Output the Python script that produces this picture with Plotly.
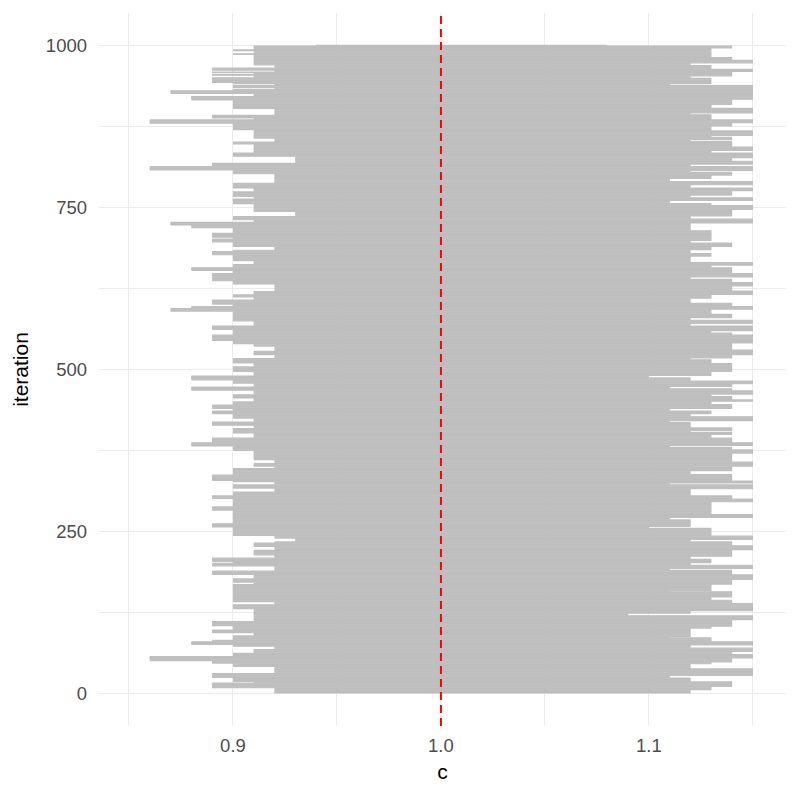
import numpy as np
import plotly.graph_objects as go

# Lower end of each interval, as runs: the value holds from this iteration upward
lower_from = [0, 9, 17, 19, 25, 32, 42, 47, 51, 58, 63, 69, 73, 76, 81, 83, 90, 94, 99, 105,
              112, 131, 138, 142, 169, 172, 178, 184, 190, 197, 202, 204, 210, 214, 222, 227,
              233, 235, 240, 244, 257, 263, 283, 289, 301, 306, 312, 317, 323, 327, 329, 338,
              348, 351, 356, 361, 375, 382, 388, 395, 402, 410, 414, 420, 425, 432, 437, 440,
              446, 451, 456, 462, 468, 474, 479, 484, 491, 497, 505, 510, 518, 523, 529, 536,
              540, 545, 554, 562, 568, 575, 590, 595, 598, 601, 608, 612, 616, 621, 632, 637,
              649, 653, 658, 663, 668, 677, 683, 685, 690, 697, 702, 704, 711, 719, 723, 728,
              731, 737, 744, 756, 764, 767, 775, 780, 788, 802, 808, 814, 819, 829, 835, 848,
              852, 857, 870, 880, 886, 888, 893, 903, 916, 922, 926, 931, 933, 935, 939, 941,
              943, 951, 954, 956, 958, 960, 962, 966, 970, 986, 988, 992, 994, 1000]
lower_c = [0.92, 0.89, 0.91, 0.90, 0.89, 0.92, 0.90, 0.89, 0.86, 0.90, 0.91, 0.92, 0.90, 0.88,
           0.89, 0.90, 0.91, 0.89, 0.90, 0.89, 0.91, 0.90, 0.92, 0.90, 0.91, 0.90, 0.91, 0.89,
           0.92, 0.89, 0.90, 0.89, 0.92, 0.91, 0.92, 0.91, 0.92, 0.93, 0.92, 0.90, 0.89, 0.90,
           0.89, 0.90, 0.89, 0.90, 0.92, 0.90, 0.92, 0.90, 0.89, 0.90, 0.92, 0.91, 0.92, 0.91,
           0.90, 0.88, 0.89, 0.91, 0.90, 0.91, 0.89, 0.91, 0.90, 0.89, 0.90, 0.89, 0.90, 0.91,
           0.90, 0.91, 0.88, 0.91, 0.90, 0.88, 0.91, 0.90, 0.91, 0.90, 0.92, 0.91, 0.92, 0.91,
           0.90, 0.89, 0.90, 0.89, 0.91, 0.90, 0.87, 0.88, 0.90, 0.89, 0.91, 0.90, 0.91, 0.92,
           0.90, 0.89, 0.90, 0.88, 0.90, 0.91, 0.90, 0.89, 0.90, 0.92, 0.90, 0.89, 0.90, 0.89,
           0.90, 0.88, 0.87, 0.91, 0.90, 0.93, 0.91, 0.90, 0.91, 0.90, 0.91, 0.90, 0.92, 0.90,
           0.86, 0.89, 0.93, 0.90, 0.91, 0.90, 0.92, 0.91, 0.90, 0.86, 0.91, 0.89, 0.92, 0.90,
           0.88, 0.91, 0.87, 0.90, 0.92, 0.90, 0.92, 0.90, 0.89, 0.91, 0.89, 0.91, 0.89, 0.92,
           0.89, 0.92, 0.91, 0.90, 0.91, 0.90, 0.91, 0.94]

# Upper end of each interval, same run layout
upper_from = [0, 6, 11, 19, 25, 28, 39, 46, 49, 55, 61, 65, 71, 75, 81, 87, 88, 101, 104, 114,
              121, 124, 128, 140, 145, 149, 158, 159, 169, 176, 184, 191, 193, 199, 202, 208,
              212, 222, 229, 235, 238, 244, 256, 258, 269, 272, 277, 296, 301, 306, 316, 323,
              325, 329, 339, 344, 351, 358, 371, 377, 381, 383, 388, 395, 400, 404, 406, 411,
              419, 421, 428, 432, 437, 440, 447, 451, 454, 459, 462, 468, 471, 474, 478, 483,
              488, 491, 497, 510, 516, 518, 523, 531, 541, 554, 557, 560, 568, 571, 577, 580,
              586, 593, 598, 603, 610, 616, 622, 629, 635, 640, 643, 649, 658, 661, 666, 675,
              680, 685, 690, 696, 699, 715, 726, 733, 737, 747, 754, 757, 761, 766, 769, 776,
              781, 785, 791, 795, 800, 805, 807, 814, 817, 822, 827, 835, 838, 844, 853, 855,
              859, 861, 869, 876, 881, 886, 894, 896, 904, 909, 917, 939, 941, 950, 953, 960,
              964, 970, 973, 978, 982, 983, 996, 1000]
upper_c = [1.12, 1.13, 1.14, 1.12, 1.11, 1.15, 1.12, 1.13, 1.14, 1.15, 1.14, 1.15, 1.12, 1.15,
           1.13, 1.11, 1.12, 1.13, 1.14, 1.15, 1.09, 1.12, 1.15, 1.14, 1.13, 1.14, 1.11, 1.13,
           1.14, 1.15, 1.14, 1.11, 1.15, 1.12, 1.13, 1.12, 1.14, 1.15, 1.14, 1.12, 1.15, 1.13,
           1.10, 1.12, 1.11, 1.15, 1.13, 1.15, 1.14, 1.12, 1.15, 1.11, 1.15, 1.14, 1.12, 1.14,
           1.15, 1.14, 1.15, 1.14, 1.11, 1.15, 1.14, 1.13, 1.14, 1.12, 1.14, 1.12, 1.11, 1.15,
           1.12, 1.13, 1.11, 1.14, 1.13, 1.15, 1.14, 1.13, 1.15, 1.14, 1.11, 1.14, 1.15, 1.12,
           1.10, 1.13, 1.14, 1.13, 1.12, 1.14, 1.15, 1.14, 1.15, 1.14, 1.13, 1.15, 1.12, 1.15,
           1.12, 1.14, 1.13, 1.15, 1.14, 1.12, 1.13, 1.15, 1.14, 1.15, 1.14, 1.12, 1.15, 1.14,
           1.13, 1.15, 1.12, 1.13, 1.12, 1.13, 1.14, 1.12, 1.13, 1.12, 1.15, 1.12, 1.14, 1.15,
           1.13, 1.11, 1.15, 1.12, 1.14, 1.15, 1.12, 1.15, 1.11, 1.13, 1.14, 1.12, 1.15, 1.12,
           1.15, 1.14, 1.15, 1.13, 1.15, 1.14, 1.12, 1.14, 1.13, 1.15, 1.13, 1.14, 1.15, 1.13,
           1.12, 1.15, 1.13, 1.14, 1.15, 1.11, 1.13, 1.12, 1.14, 1.15, 1.13, 1.12, 1.15, 1.14,
           1.11, 1.13, 1.14, 1.08]

true_c = 1.0
iterations = np.arange(1, 1001)

# per-iteration ends from the runs
lower = np.array(lower_c)[np.searchsorted(lower_from, iterations, side="right") - 1]
upper = np.array(upper_c)[np.searchsorted(upper_from, iterations, side="right") - 1]

seg_x, seg_y = [], []
for it, lo, hi in zip(iterations, lower, upper):
    seg_x += [lo, hi, None]
    seg_y += [it, it, None]

fig = go.Figure()
fig.add_trace(go.Scatter(x=seg_x, y=seg_y, mode="lines",
                         line=dict(color="#BEBEBE", width=1.2),
                         hoverinfo="skip", showlegend=False))

fig.add_vline(x=true_c, line=dict(color="#FF0000", width=2, dash="8px,5px"))

grid = "#EBEBEB"
# the page puts the figure ~7px in from the top-left, so margins are shifted to compensate
fig.update_layout(
    width=797, height=797,
    margin=dict(l=91, r=19, t=5, b=79),
    plot_bgcolor="white", paper_bgcolor="white",
    font=dict(family="Liberation Sans, Arial, sans-serif", color="#4D4D4D", size=18.5),
    showlegend=False,
)
fig.update_xaxes(
    range=[0.8356, 1.1659], tickvals=[0.9, 1.0, 1.1], ticktext=["0.9", "1.0", "1.1"],
    showgrid=True, gridcolor=grid, gridwidth=1.1, zeroline=False, ticks="",
    minor=dict(tickvals=[0.85, 0.95, 1.05, 1.15], showgrid=True, gridcolor=grid, gridwidth=0.6),
    title=dict(text="c", font=dict(color="black", size=21), standoff=9),
    ticklabelstandoff=6, automargin=False,
)
fig.update_yaxes(
    range=[-50, 1050], tickvals=[0, 250, 500, 750, 1000],
    showgrid=True, gridcolor=grid, gridwidth=1.1, zeroline=False, ticks="",
    minor=dict(tickvals=[125, 375, 625, 875], showgrid=True, gridcolor=grid, gridwidth=0.6),
    title=dict(text="iteration", font=dict(color="black", size=21), standoff=11),
    ticklabelstandoff=11, automargin=False,
)

fig.write_html("out.html")
